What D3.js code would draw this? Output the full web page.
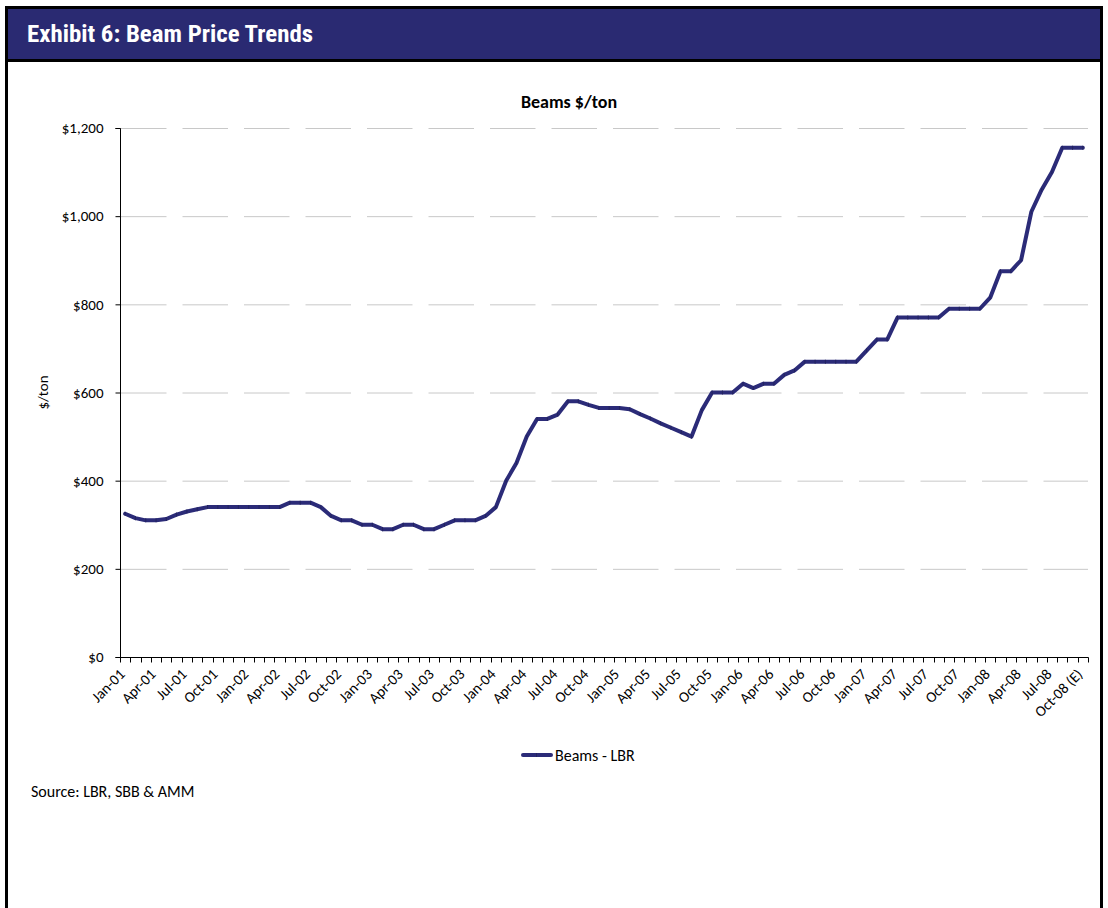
<!DOCTYPE html>
<html>
<head>
<meta charset="utf-8">
<script src="https://cdn.jsdelivr.net/npm/d3@7"></script>
<style>
  body { margin: 0; background: #ffffff; }
  svg { display: block; }
</style>
</head>
<body>
<svg id="chart" width="1108" height="908"></svg>
<script>
// Monthly categories, Jan-01 through Oct-08
const monthNames = ["Jan", "Feb", "Mar", "Apr", "May", "Jun", "Jul", "Aug", "Sep", "Oct", "Nov", "Dec"];
const years = ["01", "02", "03", "04", "05", "06", "07", "08"];
const months = years.flatMap(y => monthNames.map(m => `${m}-${y}`)).slice(0, 94);

// Beams - LBR, $/ton
const beamPrices = [
  325, 315, 310, 310, 313, 323, 330, 335, 340, 340, 340, 340, 340, 340, 340, 340,
  350, 350, 350, 340, 320, 310, 310, 300, 300, 290, 290, 300, 300, 290, 290, 300,
  310, 310, 310, 320, 340, 400, 440, 500, 540, 540, 550, 580, 580, 572, 565, 565,
  565, 562, 551, 541, 530, 520, 510, 500, 560, 600, 600, 600, 620, 610, 620, 620,
  640, 650, 670, 670, 670, 670, 670, 670, 695, 720, 720, 770, 770, 770, 770, 770,
  790, 790, 790, 790, 815, 875, 875, 900, 1010, 1060, 1100, 1155, 1155, 1155
];

// Quarterly tick labels shown under the axis
const tickLabels = [
  "Jan-01", "Apr-01", "Jul-01", "Oct-01", "Jan-02", "Apr-02", "Jul-02", "Oct-02",
  "Jan-03", "Apr-03", "Jul-03", "Oct-03", "Jan-04", "Apr-04", "Jul-04", "Oct-04",
  "Jan-05", "Apr-05", "Jul-05", "Oct-05", "Jan-06", "Apr-06", "Jul-06", "Oct-06",
  "Jan-07", "Apr-07", "Jul-07", "Oct-07", "Jan-08", "Apr-08", "Jul-08", "Oct-08 (E)"
];

const yTicks = [0, 200, 400, 600, 800, 1000, 1200];

const NAVY = "#2a2a72";
const LINE = "#2b2b78";
const BODY_FONT = "Carlito, Lato, 'Open Sans', sans-serif";

const svg = d3.select("#chart");

// ---- frame and header band ----
svg.append("rect").attr("x", 5).attr("y", 6).attr("width", 1098).attr("height", 910)
  .attr("fill", "#000");
svg.append("rect").attr("x", 8).attr("y", 62).attr("width", 1092).attr("height", 850)
  .attr("fill", "#fff");
svg.append("rect").attr("x", 8).attr("y", 9).attr("width", 1092).attr("height", 50)
  .attr("fill", NAVY);

const title = svg.append("text")
  .attr("x", 27).attr("y", 42)
  .attr("fill", "#fff")
  .attr("font-family", "'Liberation Sans Narrow', 'Arial Narrow', 'Roboto Condensed', sans-serif")
  .attr("font-weight", "bold")
  .attr("font-size", 23)
  .text("Exhibit 6: Beam Price Trends");
title.attr("textLength", 286).attr("lengthAdjust", "spacingAndGlyphs");

// ---- scales ----
const plot = { left: 120, right: 1088, top: 128, bottom: 657 };

const x = d3.scaleBand()
  .domain(months)
  .range([plot.left, plot.right])
  .paddingInner(0).paddingOuter(0);
const cx = m => x(m) + x.bandwidth() / 2;

const y = d3.scaleLinear()
  .domain([0, 1200])
  .range([plot.bottom, plot.top]);

// ---- gridlines ----
svg.append("g")
  .selectAll("line")
  .data(yTicks.filter(v => v > 0))
  .join("line")
  .attr("x1", plot.left + 1).attr("x2", plot.right)
  .attr("y1", d => y(d) + 0.5).attr("y2", d => y(d) + 0.5)
  .attr("stroke", "#c8c8c8")
  .attr("stroke-width", 1)
  .attr("stroke-dasharray", "45.5 16");

// ---- y axis ----
const yAxis = svg.append("g")
  .attr("transform", `translate(${plot.left + 0.5},0)`)
  .call(d3.axisLeft(y).tickValues(yTicks).tickSize(5).tickPadding(12)
    .tickFormat(d => "$" + d3.format(",")(d)));
yAxis.select(".domain").attr("stroke", "#000").attr("d", `M-5,${y(0) + 0.5}H0V${y(1200) + 0.5}H-5`);
yAxis.selectAll(".tick line").attr("stroke", "#000");
yAxis.selectAll(".tick text")
  .attr("font-family", BODY_FONT)
  .attr("font-size", 15)
  .attr("fill", "#000");

// ---- x axis ----
const xAxisG = svg.append("g")
  .attr("transform", `translate(0,${plot.bottom + 0.5})`);
xAxisG.append("line")
  .attr("x1", plot.left).attr("x2", plot.right + 0.5)
  .attr("stroke", "#000");
const boundaries = months.map(m => x(m)).concat([plot.right]);
xAxisG.selectAll("line.tick")
  .data(boundaries)
  .join("line")
  .attr("class", "tick")
  .attr("x1", d => Math.round(d) + 0.5).attr("x2", d => Math.round(d) + 0.5)
  .attr("y1", 0).attr("y2", 5)
  .attr("stroke", "#000");

const labelled = tickLabels.map((t, i) => ({ text: t, month: months[i * 3] }));
xAxisG.selectAll("text.lbl")
  .data(labelled)
  .join("text")
  .attr("class", "lbl")
  .attr("transform", d => `translate(${cx(d.month) - 3},${14}) rotate(-45)`)
  .attr("text-anchor", "end")
  .attr("dy", "0.35em")
  .attr("font-family", BODY_FONT)
  .attr("font-size", 15)
  .attr("fill", "#000")
  .text(d => d.text);

// ---- titles ----
svg.append("text")
  .attr("x", 569).attr("y", 108)
  .attr("text-anchor", "middle")
  .attr("font-family", BODY_FONT)
  .attr("font-weight", "bold")
  .attr("font-size", 18)
  .text("Beams $/ton");

svg.append("text")
  .attr("transform", `translate(48,${(plot.top + plot.bottom) / 2}) rotate(-90)`)
  .attr("text-anchor", "middle")
  .attr("font-family", BODY_FONT)
  .attr("font-size", 15)
  .text("$/ton");

// ---- series line ----
const series = months.map((m, i) => ({ month: m, value: beamPrices[i] }));
svg.append("path")
  .datum(series)
  .attr("fill", "none")
  .attr("stroke", LINE)
  .attr("stroke-width", 4)
  .attr("stroke-linejoin", "round")
  .attr("stroke-linecap", "round")
  .attr("d", d3.line().x(d => cx(d.month)).y(d => y(d.value)));

// dash markers at each data point
svg.append("g")
  .selectAll("line")
  .data(series)
  .join("line")
  .attr("x1", d => cx(d.month) - 0.5).attr("x2", d => cx(d.month) + 0.5)
  .attr("y1", d => y(d.value)).attr("y2", d => y(d.value))
  .attr("stroke", "#23235f")
  .attr("stroke-width", 4);

// ---- legend ----
const legend = svg.append("g").attr("transform", "translate(522,755)");
legend.append("line")
  .attr("x1", 1).attr("x2", 29)
  .attr("stroke", LINE).attr("stroke-width", 4).attr("stroke-linecap", "round");
legend.append("line")
  .attr("x1", 14).attr("x2", 15)
  .attr("stroke", "#23235f").attr("stroke-width", 4);
legend.append("text")
  .attr("x", 33).attr("y", 0).attr("dy", "0.35em")
  .attr("font-family", BODY_FONT)
  .attr("font-size", 16)
  .text("Beams - LBR");

// ---- source note ----
svg.append("text")
  .attr("x", 31).attr("y", 797)
  .attr("font-family", BODY_FONT)
  .attr("font-size", 16)
  .text("Source: LBR, SBB & AMM");
</script>
</body>
</html>
